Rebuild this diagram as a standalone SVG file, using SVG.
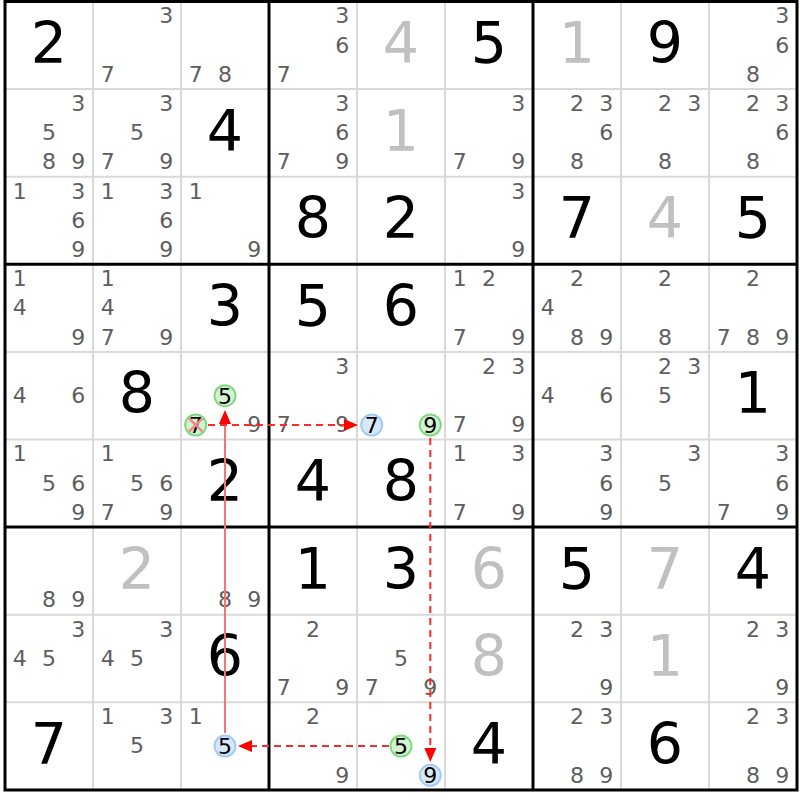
<svg xmlns="http://www.w3.org/2000/svg" width="800" height="800" viewBox="0 0 800 800">
<style>
text{font-family:"DejaVu Sans","Noto Sans",sans-serif;text-anchor:middle}
.g{font-size:57px;fill:#000}
.s{font-size:57px;fill:#c0c0c0}
.c{font-size:22px;fill:#5e5e5e}
.h{font-size:22px;fill:#000}
.thin{stroke:#d9d9d9;stroke-width:2}
.thick{stroke:#000;stroke-width:3}
.gc{fill:#d2f2d2;stroke:#80d880;stroke-width:2}
.bc{fill:#d8e8fb;stroke:#a2cbf3;stroke-width:2}
.x{stroke:#f08888;stroke-width:2.5}
.strong{stroke:#ff7070;stroke-width:2;fill:none}
.weak{stroke:#ff2a2a;stroke-width:2;stroke-dasharray:7,5;fill:none}
</style>
<defs>
<marker id="ah" markerUnits="userSpaceOnUse" markerWidth="14" markerHeight="12" refX="0" refY="6" orient="auto">
<path d="M0,0 L14,6 L0,12 z" fill="#ff0000"/>
</marker>
</defs>
<rect x="0" y="0" width="800" height="800" fill="#fff"/>
<g id="grid">
<line class="thin" x1="93" y1="1.5" x2="93" y2="790"/>
<line class="thin" x1="181" y1="1.5" x2="181" y2="790"/>
<line class="thin" x1="357" y1="1.5" x2="357" y2="790"/>
<line class="thin" x1="445" y1="1.5" x2="445" y2="790"/>
<line class="thin" x1="621" y1="1.5" x2="621" y2="790"/>
<line class="thin" x1="709" y1="1.5" x2="709" y2="790"/>
<line class="thin" x1="5" y1="89.1" x2="797" y2="89.1"/>
<line class="thin" x1="5" y1="176.7" x2="797" y2="176.7"/>
<line class="thin" x1="5" y1="439.5" x2="797" y2="439.5"/>
<line class="thin" x1="5" y1="352" x2="797" y2="352"/>
<line class="thin" x1="5" y1="614.7" x2="797" y2="614.7"/>
<line class="thin" x1="5" y1="702.3" x2="797" y2="702.3"/>
<line class="thick" x1="269" y1="1.5" x2="269" y2="790"/>
<line class="thick" x1="533" y1="1.5" x2="533" y2="790"/>
<line class="thick" x1="5" y1="264.3" x2="797" y2="264.3"/>
<line class="thick" x1="5" y1="527.1" x2="797" y2="527.1"/>
<rect class="thick" x="5" y="1.5" width="792" height="788.5" fill="none"/>
</g>
<g id="r0">
<g id="r0c0"><text class="g" x="49" y="63">2</text></g>
<g id="r0c1"><text class="c" x="166.3" y="23.4">3</text><text class="c" x="107.7" y="81.8">7</text></g>
<g id="r0c2"><text class="c" x="195.7" y="81.8">7</text><text class="c" x="225" y="81.8">8</text></g>
<g id="r0c3"><text class="c" x="342.3" y="23.4">3</text><text class="c" x="342.3" y="52.6">6</text><text class="c" x="283.7" y="81.8">7</text></g>
<g id="r0c4"><text class="s" x="401" y="63">4</text></g>
<g id="r0c5"><text class="g" x="489" y="63">5</text></g>
<g id="r0c6"><text class="s" x="577" y="63">1</text></g>
<g id="r0c7"><text class="g" x="665" y="63">9</text></g>
<g id="r0c8"><text class="c" x="782.3" y="23.4">3</text><text class="c" x="782.3" y="52.6">6</text><text class="c" x="753" y="81.8">8</text></g>
</g>
<g id="r1">
<g id="r1c0"><text class="c" x="78.3" y="111">3</text><text class="c" x="49" y="140.2">5</text><text class="c" x="49" y="169.4">8</text><text class="c" x="78.3" y="169.4">9</text></g>
<g id="r1c1"><text class="c" x="166.3" y="111">3</text><text class="c" x="137" y="140.2">5</text><text class="c" x="107.7" y="169.4">7</text><text class="c" x="166.3" y="169.4">9</text></g>
<g id="r1c2"><text class="g" x="225" y="150.6">4</text></g>
<g id="r1c3"><text class="c" x="342.3" y="111">3</text><text class="c" x="342.3" y="140.2">6</text><text class="c" x="283.7" y="169.4">7</text><text class="c" x="342.3" y="169.4">9</text></g>
<g id="r1c4"><text class="s" x="401" y="150.6">1</text></g>
<g id="r1c5"><text class="c" x="518.3" y="111">3</text><text class="c" x="459.7" y="169.4">7</text><text class="c" x="518.3" y="169.4">9</text></g>
<g id="r1c6"><text class="c" x="577" y="111">2</text><text class="c" x="606.3" y="111">3</text><text class="c" x="606.3" y="140.2">6</text><text class="c" x="577" y="169.4">8</text></g>
<g id="r1c7"><text class="c" x="665" y="111">2</text><text class="c" x="694.3" y="111">3</text><text class="c" x="665" y="169.4">8</text></g>
<g id="r1c8"><text class="c" x="753" y="111">2</text><text class="c" x="782.3" y="111">3</text><text class="c" x="782.3" y="140.2">6</text><text class="c" x="753" y="169.4">8</text></g>
</g>
<g id="r2">
<g id="r2c0"><text class="c" x="19.7" y="198.6">1</text><text class="c" x="78.3" y="198.6">3</text><text class="c" x="78.3" y="227.8">6</text><text class="c" x="78.3" y="257">9</text></g>
<g id="r2c1"><text class="c" x="107.7" y="198.6">1</text><text class="c" x="166.3" y="198.6">3</text><text class="c" x="166.3" y="227.8">6</text><text class="c" x="166.3" y="257">9</text></g>
<g id="r2c2"><text class="c" x="195.7" y="198.6">1</text><text class="c" x="254.3" y="257">9</text></g>
<g id="r2c3"><text class="g" x="313" y="238.2">8</text></g>
<g id="r2c4"><text class="g" x="401" y="238.2">2</text></g>
<g id="r2c5"><text class="c" x="518.3" y="198.6">3</text><text class="c" x="518.3" y="257">9</text></g>
<g id="r2c6"><text class="g" x="577" y="238.2">7</text></g>
<g id="r2c7"><text class="s" x="665" y="238.2">4</text></g>
<g id="r2c8"><text class="g" x="753" y="238.2">5</text></g>
</g>
<g id="r3">
<g id="r3c0"><text class="c" x="19.7" y="286.2">1</text><text class="c" x="19.7" y="315.4">4</text><text class="c" x="78.3" y="344.6">9</text></g>
<g id="r3c1"><text class="c" x="107.7" y="286.2">1</text><text class="c" x="107.7" y="315.4">4</text><text class="c" x="107.7" y="344.6">7</text><text class="c" x="166.3" y="344.6">9</text></g>
<g id="r3c2"><text class="g" x="225" y="325.8">3</text></g>
<g id="r3c3"><text class="g" x="313" y="325.8">5</text></g>
<g id="r3c4"><text class="g" x="401" y="325.8">6</text></g>
<g id="r3c5"><text class="c" x="459.7" y="286.2">1</text><text class="c" x="489" y="286.2">2</text><text class="c" x="459.7" y="344.6">7</text><text class="c" x="518.3" y="344.6">9</text></g>
<g id="r3c6"><text class="c" x="577" y="286.2">2</text><text class="c" x="547.7" y="315.4">4</text><text class="c" x="577" y="344.6">8</text><text class="c" x="606.3" y="344.6">9</text></g>
<g id="r3c7"><text class="c" x="665" y="286.2">2</text><text class="c" x="665" y="344.6">8</text></g>
<g id="r3c8"><text class="c" x="753" y="286.2">2</text><text class="c" x="723.7" y="344.6">7</text><text class="c" x="753" y="344.6">8</text><text class="c" x="782.3" y="344.6">9</text></g>
</g>
<g id="r4">
<g id="r4c0"><text class="c" x="19.7" y="403">4</text><text class="c" x="78.3" y="403">6</text></g>
<g id="r4c1"><text class="g" x="137" y="413.4">8</text></g>
<g id="r4c2">
<circle class="gc" cx="225" cy="395.7" r="10.5"/><text class="h" x="225" y="403.5">5</text>
<circle class="gc" cx="195.7" cy="425" r="10.5"/><text class="h" x="195.7" y="432.8">7</text>
<line class="x" x1="189" y1="418.3" x2="202.4" y2="431.7"/><line class="x" x1="189" y1="431.7" x2="202.4" y2="418.3"/>
<text class="c" x="254.3" y="432.2">9</text>
</g>
<g id="r4c3"><text class="c" x="342.3" y="373.8">3</text><text class="c" x="283.7" y="432.2">7</text><text class="c" x="342.3" y="432.2">9</text></g>
<g id="r4c4">
<circle class="bc" cx="371.7" cy="425" r="10.5"/><text class="h" x="371.7" y="432.8">7</text>
<circle class="gc" cx="430.3" cy="425" r="10.5"/><text class="h" x="430.3" y="432.8">9</text>
</g>
<g id="r4c5"><text class="c" x="489" y="373.8">2</text><text class="c" x="518.3" y="373.8">3</text><text class="c" x="459.7" y="432.2">7</text><text class="c" x="518.3" y="432.2">9</text></g>
<g id="r4c6"><text class="c" x="547.7" y="403">4</text><text class="c" x="606.3" y="403">6</text></g>
<g id="r4c7"><text class="c" x="665" y="373.8">2</text><text class="c" x="694.3" y="373.8">3</text><text class="c" x="665" y="403">5</text></g>
<g id="r4c8"><text class="g" x="753" y="413.4">1</text></g>
</g>
<g id="r5">
<g id="r5c0"><text class="c" x="19.7" y="461.4">1</text><text class="c" x="49" y="490.6">5</text><text class="c" x="78.3" y="490.6">6</text><text class="c" x="78.3" y="519.8">9</text></g>
<g id="r5c1"><text class="c" x="107.7" y="461.4">1</text><text class="c" x="137" y="490.6">5</text><text class="c" x="166.3" y="490.6">6</text><text class="c" x="107.7" y="519.8">7</text><text class="c" x="166.3" y="519.8">9</text></g>
<g id="r5c2"><text class="g" x="225" y="501">2</text></g>
<g id="r5c3"><text class="g" x="313" y="501">4</text></g>
<g id="r5c4"><text class="g" x="401" y="501">8</text></g>
<g id="r5c5"><text class="c" x="459.7" y="461.4">1</text><text class="c" x="518.3" y="461.4">3</text><text class="c" x="459.7" y="519.8">7</text><text class="c" x="518.3" y="519.8">9</text></g>
<g id="r5c6"><text class="c" x="606.3" y="461.4">3</text><text class="c" x="606.3" y="490.6">6</text><text class="c" x="606.3" y="519.8">9</text></g>
<g id="r5c7"><text class="c" x="694.3" y="461.4">3</text><text class="c" x="665" y="490.6">5</text></g>
<g id="r5c8"><text class="c" x="782.3" y="461.4">3</text><text class="c" x="782.3" y="490.6">6</text><text class="c" x="723.7" y="519.8">7</text><text class="c" x="782.3" y="519.8">9</text></g>
</g>
<g id="r6">
<g id="r6c0"><text class="c" x="49" y="607.4">8</text><text class="c" x="78.3" y="607.4">9</text></g>
<g id="r6c1"><text class="s" x="137" y="588.6">2</text></g>
<g id="r6c2"><text class="c" x="225" y="607.4">8</text><text class="c" x="254.3" y="607.4">9</text></g>
<g id="r6c3"><text class="g" x="313" y="588.6">1</text></g>
<g id="r6c4"><text class="g" x="401" y="588.6">3</text></g>
<g id="r6c5"><text class="s" x="489" y="588.6">6</text></g>
<g id="r6c6"><text class="g" x="577" y="588.6">5</text></g>
<g id="r6c7"><text class="s" x="665" y="588.6">7</text></g>
<g id="r6c8"><text class="g" x="753" y="588.6">4</text></g>
</g>
<g id="r7">
<g id="r7c0"><text class="c" x="78.3" y="636.6">3</text><text class="c" x="19.7" y="665.8">4</text><text class="c" x="49" y="665.8">5</text></g>
<g id="r7c1"><text class="c" x="166.3" y="636.6">3</text><text class="c" x="107.7" y="665.8">4</text><text class="c" x="137" y="665.8">5</text></g>
<g id="r7c2"><text class="g" x="225" y="676.2">6</text></g>
<g id="r7c3"><text class="c" x="313" y="636.6">2</text><text class="c" x="283.7" y="695">7</text><text class="c" x="342.3" y="695">9</text></g>
<g id="r7c4"><text class="c" x="401" y="665.8">5</text><text class="c" x="371.7" y="695">7</text><text class="c" x="430.3" y="695">9</text></g>
<g id="r7c5"><text class="s" x="489" y="676.2">8</text></g>
<g id="r7c6"><text class="c" x="577" y="636.6">2</text><text class="c" x="606.3" y="636.6">3</text><text class="c" x="606.3" y="695">9</text></g>
<g id="r7c7"><text class="s" x="665" y="676.2">1</text></g>
<g id="r7c8"><text class="c" x="753" y="636.6">2</text><text class="c" x="782.3" y="636.6">3</text><text class="c" x="782.3" y="695">9</text></g>
</g>
<g id="r8">
<g id="r8c0"><text class="g" x="49" y="763.8">7</text></g>
<g id="r8c1"><text class="c" x="107.7" y="724.2">1</text><text class="c" x="166.3" y="724.2">3</text><text class="c" x="137" y="753.4">5</text></g>
<g id="r8c2"><text class="c" x="195.7" y="724.2">1</text>
<circle class="bc" cx="225" cy="746.1" r="10.5"/><text class="h" x="225" y="753.9">5</text></g>
<g id="r8c3"><text class="c" x="313" y="724.2">2</text><text class="c" x="342.3" y="782.6">9</text></g>
<g id="r8c4">
<circle class="gc" cx="401" cy="746.1" r="10.5"/><text class="h" x="401" y="753.9">5</text>
<circle class="bc" cx="430.3" cy="775.3" r="10.5"/><text class="h" x="430.3" y="783.1">9</text>
</g>
<g id="r8c5"><text class="g" x="489" y="763.8">4</text></g>
<g id="r8c6"><text class="c" x="577" y="724.2">2</text><text class="c" x="606.3" y="724.2">3</text><text class="c" x="577" y="782.6">8</text><text class="c" x="606.3" y="782.6">9</text></g>
<g id="r8c7"><text class="g" x="665" y="763.8">6</text></g>
<g id="r8c8"><text class="c" x="753" y="724.2">2</text><text class="c" x="782.3" y="724.2">3</text><text class="c" x="753" y="782.6">8</text><text class="c" x="782.3" y="782.6">9</text></g>
</g>
<g id="connectors">
<line class="strong" x1="225" y1="733" x2="225" y2="424" marker-end="url(#ah)"/>
<line class="weak" x1="208" y1="425" x2="344" y2="425" marker-end="url(#ah)"/>
<line class="weak" x1="430.3" y1="438" x2="430.3" y2="748" marker-end="url(#ah)"/>
<line class="weak" x1="389" y1="746.1" x2="252" y2="746.1" marker-end="url(#ah)"/>
</g>
</svg>
